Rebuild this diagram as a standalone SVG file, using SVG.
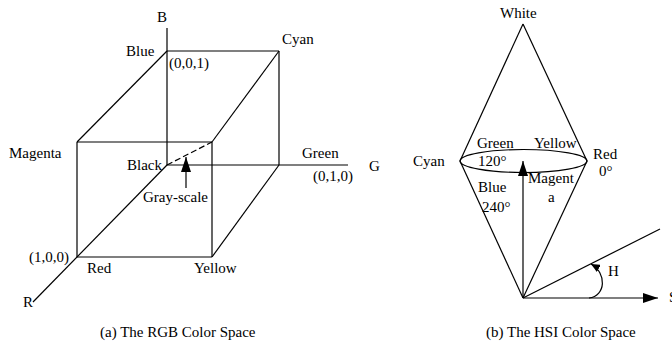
<svg xmlns="http://www.w3.org/2000/svg" width="672" height="346" viewBox="0 0 672 346">
<style>
.ln{stroke:#000;stroke-width:1.2;fill:none}
.t{font-family:"Liberation Serif","Times New Roman",serif;font-size:15px;fill:#000}
</style>
<defs>
<marker id="ah" markerWidth="16" markerHeight="10" refX="15" refY="5" orient="auto" markerUnits="userSpaceOnUse"><path d="M0,0 L15,5 L0,10 z" fill="#000"/></marker>
<marker id="ahs" markerWidth="10" markerHeight="8" refX="9" refY="4" orient="auto" markerUnits="userSpaceOnUse"><path d="M0,0 L9,4 L0,8 z" fill="#000"/></marker>
</defs>
<g id="connectors">
<line class="ln" x1="167" y1="28" x2="167" y2="165"/>
<line class="ln" x1="167" y1="51" x2="279" y2="51"/>
<line class="ln" x1="279" y1="51" x2="279" y2="165"/>
<line class="ln" x1="167" y1="165" x2="348" y2="165"/>
<line class="ln" x1="167" y1="51" x2="77" y2="142"/>
<line class="ln" x1="279" y1="51" x2="212" y2="142"/>
<line class="ln" x1="77" y1="142" x2="212" y2="142"/>
<line class="ln" x1="77" y1="142" x2="77" y2="257"/>
<line class="ln" x1="77" y1="257" x2="212" y2="257"/>
<line class="ln" x1="212" y1="142" x2="212" y2="257"/>
<line class="ln" x1="212" y1="257" x2="279" y2="165"/>
<line class="ln" x1="167" y1="165" x2="33" y2="302"/>
<line class="ln" x1="167" y1="165" x2="212" y2="142" stroke-dasharray="6,3" stroke-width="1.6"/>
<line class="ln" x1="186" y1="188" x2="186" y2="157" marker-end="url(#ah)"/>
<line class="ln" x1="523" y1="24" x2="460" y2="161"/>
<line class="ln" x1="523" y1="24" x2="587" y2="161"/>
<ellipse class="ln" cx="523.5" cy="161" rx="63.5" ry="11.5"/>
<line class="ln" x1="460" y1="161" x2="523" y2="298"/>
<line class="ln" x1="587" y1="161" x2="523" y2="298"/>
<line class="ln" x1="523" y1="298" x2="523" y2="161" marker-end="url(#ah)"/>
<line class="ln" x1="523" y1="298" x2="658" y2="298" marker-end="url(#ah)"/>
<line class="ln" x1="523" y1="298" x2="660" y2="229"/>
<path class="ln" d="M589 298 C606 296 607 273 591 264" marker-end="url(#ahs)"/>
</g>
<g id="rgb-labels">
<text class="t" x="157" y="22">B</text>
<text class="t" x="126" y="56">Blue</text>
<text class="t" x="169" y="68">(0,0,1)</text>
<text class="t" x="282" y="44">Cyan</text>
<text class="t" x="9" y="158">Magenta</text>
<text class="t" x="127" y="170">Black</text>
<text class="t" x="302" y="158">Green</text>
<text class="t" x="369" y="171">G</text>
<text class="t" x="313" y="181">(0,1,0)</text>
<text class="t" x="143" y="202">Gray-scale</text>
<text class="t" x="29" y="262">(1,0,0)</text>
<text class="t" x="87" y="273">Red</text>
<text class="t" x="194" y="273">Yellow</text>
<text class="t" x="23" y="307">R</text>
<text class="t" x="100" y="337">(a) The RGB Color Space</text>
</g>
<g id="hsi-labels">
<text class="t" x="500" y="18">White</text>
<text class="t" x="413" y="166">Cyan</text>
<text class="t" x="477" y="148">Green</text>
<text class="t" x="534" y="148">Yellow</text>
<text class="t" x="593" y="159">Red</text>
<text class="t" x="478" y="166">120°</text>
<text class="t" x="599" y="176">0°</text>
<text class="t" x="478" y="192">Blue</text>
<text class="t" x="482" y="212">240°</text>
<text class="t" x="528" y="183">Magent</text>
<text class="t" x="548" y="202">a</text>
<text class="t" x="608" y="276">H</text>
<text class="t" x="669" y="302">S</text>
<text class="t" x="486" y="337">(b) The HSI Color Space</text>
</g>
</svg>
